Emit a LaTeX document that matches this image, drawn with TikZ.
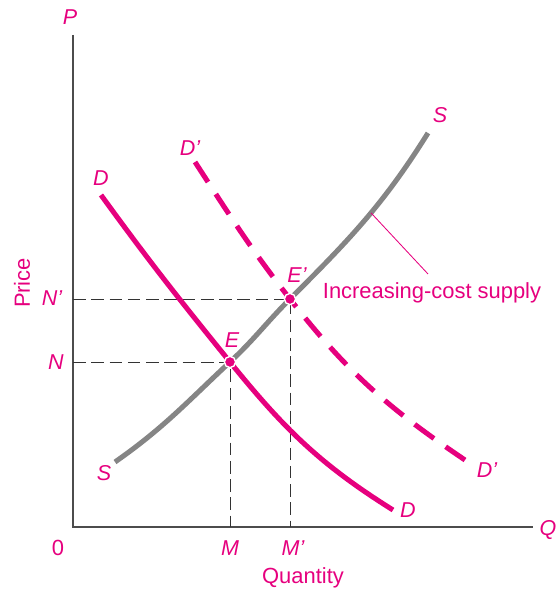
\documentclass[tikz,border=0pt]{standalone}
\usepackage{fontspec}
\setmainfont{Liberation Sans}
\usepackage{tikz}
\usepackage{xcolor}
\definecolor{mag}{HTML}{E6007E}
\definecolor{supgray}{HTML}{858585}

\begin{document}
\begin{tikzpicture}[font=\fontsize{15.6}{18}\selectfont,line cap=butt,
  lbl/.style={text=mag,font=\fontsize{15.3}{17}\selectfont\itshape},
  txt/.style={text=mag},
  axis/.style={black!70,line width=1pt},
  guide/.style={black!80,line width=0.7pt,dash pattern=on 9pt off 4pt},
  dem/.style={mag,line width=3.6pt},
  sup/.style={supgray,line width=3.6pt},
  leader/.style={mag,line width=0.6pt},
  eqdot/.style={circle,fill=mag,draw=white,line width=1pt,inner sep=0pt,minimum size=8pt}]
\useasboundingbox (-1.825,-1.55) rectangle (12.075,13.175);
\coordinate (O) at (0,0);
\coordinate (Ptop) at (0,12.3);
\coordinate (Qend) at (11.5,0);
\coordinate (E) at (3.925,4.125);
\coordinate (Ep) at (5.425,5.7);
\coordinate (leadend) at (8.875,6.325);
% axes
\draw[axis] (Ptop) -- (O) -- (Qend);
\node[lbl] (P) at (-0.075,12.75) {P};
\node[lbl] (Q) at (11.875,-0.075) {Q};
\node[txt] (zero) at (-0.375,-0.525) {0};
\node[txt] (qty) at (5.75,-1.275) {Quantity};
\node[txt,rotate=90] (price) at (-1.275,6.1) {Price};
% guide lines
\draw[guide] (O |- E) -- (E) -- (E |- O);
\draw[guide] (O |- Ep) -- (Ep) -- (Ep |- O);
\node[lbl] (N) at (-0.425,4.125) {N};
\node[lbl] (Np) at (-0.525,5.725) {N’};
\node[lbl] (M) at (3.925,-0.525) {M};
\node[lbl] (Mp) at (5.5,-0.525) {M’};
% supply
\draw[sup] (1.05,1.625) to[out=35,in=-137] (E) to[out=43,in=-135] (Ep)
  to[out=45,in=-122] coordinate[pos=0.55] (lead) (8.875,9.85);
\node[lbl] (S1) at (0.775,1.35) {S};
\node[lbl] (S2) at (9.175,10.3) {S};
% demand
\draw[dem] (0.7,8.3) to[out=-54,in=129] (E) to[out=-51,in=148] (8.0,0.425);
\node[lbl] (D1) at (0.7,8.725) {D};
\node[lbl] (D2) at (8.375,0.425) {D};
\draw[dem,dash pattern=on 17pt off 10.2pt] (3.05,9.125) to[out=-57,in=128] (Ep) to[out=-52,in=146] (9.8,1.675);
\node[lbl] (Dp1) at (2.925,9.475) {D’};
\node[lbl] (Dp2) at (10.35,1.425) {D’};
% equilibria
\node[eqdot] (Edot) at (E) {};
\node[eqdot] (Epdot) at (Ep) {};
\node[lbl] (Elbl) at (3.975,4.675) {E};
\node[lbl] (Eplbl) at (5.6,6.3) {E’};
\draw[leader] (lead) -- (leadend);
\node[txt] (cost) at (8.975,5.85) {Increasing-cost supply};
\end{tikzpicture}
\end{document}
